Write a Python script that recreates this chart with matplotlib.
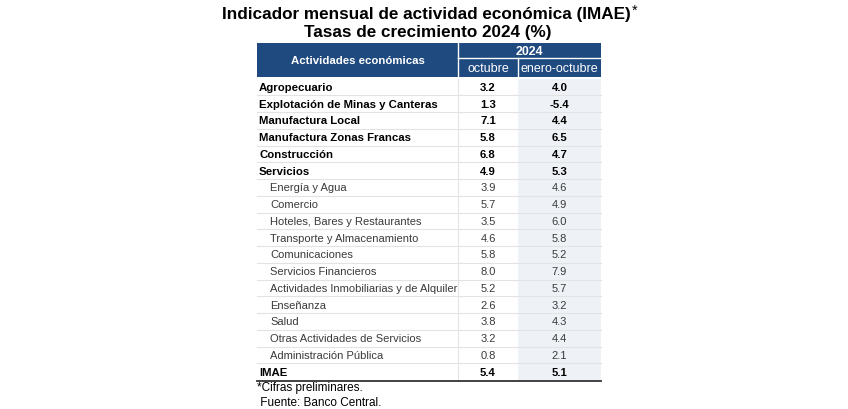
import matplotlib
matplotlib.use("Agg")
import matplotlib.pyplot as plt
from matplotlib.patches import Rectangle

plt.rcParams['font.family'] = ['Liberation Sans', 'DejaVu Sans']

title1 = "Indicador mensual de actividad económica (IMAE)"
title2 = "Tasas de crecimiento 2024 (%)"
header_main = "Actividades económicas"
header_year = "2024"
col_labels = ["octubre", "enero-octubre"]

activities = ["Agropecuario", "Explotación de Minas y Canteras", "Manufactura Local",
              "Manufactura Zonas Francas", "Construcción", "Servicios",
              "Energía y Agua", "Comercio", "Hoteles, Bares y Restaurantes",
              "Transporte y Almacenamiento", "Comunicaciones", "Servicios Financieros",
              "Actividades Inmobiliarias y de Alquiler", "Enseñanza", "Salud",
              "Otras Actividades de Servicios", "Administración Pública", "IMAE"]
is_sub = [False, False, False, False, False, False,
          True, True, True, True, True, True, True, True, True, True, True, False]
octubre = [3.2, 1.3, 7.1, 5.8, 6.8, 4.9, 3.9, 5.7, 3.5, 4.6, 5.8, 8.0, 5.2, 2.6, 3.8, 3.2, 0.8, 5.4]
ene_oct = [4.0, -5.4, 4.4, 6.5, 4.7, 5.3, 4.6, 4.9, 6.0, 5.8, 5.2, 7.9, 5.7, 3.2, 4.3, 4.4, 2.1, 5.1]
notes = ["*Cifras preliminares.", " Fuente: Banco Central."]

W, H = 848, 410
fig = plt.figure(figsize=(W / 100, H / 100), dpi=100)
ax = fig.add_axes([0, 0, 1, 1])
ax.set_xlim(0, W)
ax.set_ylim(H, 0)
ax.axis('off')

navy = '#1f4a7f'
x0, x1, x2, x3 = 257, 458, 518, 601
hy0, hy1, hy2 = 44, 59, 78
row_h = (381 - 79.5) / len(activities)
ry0 = 79.5

# Titles
t1 = ax.text(426, 15, title1, ha='center', va='center', fontsize=12.3, fontweight='bold')
fig.canvas.draw()
bb = t1.get_window_extent()
ax.text(bb.x1 + 1, 11, "*", ha='left', va='center', fontsize=10.5)
ax.text(428, 33, title2, ha='center', va='center', fontsize=12.3, fontweight='bold')

# Header
ax.add_patch(Rectangle((x0, hy0), x3 - x0, hy2 - hy0, facecolor=navy, edgecolor='none'))
ax.plot([x1, x1], [hy0, hy2], color='white', lw=1)
ax.plot([x1, x3], [hy1, hy1], color='white', lw=1)
ax.plot([x2, x2], [hy1, hy2], color='white', lw=1)
ax.text((x0 + x1) / 2, (hy0 + hy2) / 2, header_main, ha='center', va='center',
        color='white', fontsize=8.2, fontweight='bold')
ax.text((x1 + x3) / 2, (hy0 + hy1) / 2 + 0.5, header_year, ha='center', va='center',
        color='white', fontsize=8.9, fontweight='bold')
ax.text((x1 + x2) / 2, (hy1 + hy2) / 2 + 0.5, col_labels[0], ha='center', va='center',
        color='white', fontsize=9)
ax.text((x2 + x3) / 2, (hy1 + hy2) / 2 + 0.5, col_labels[1], ha='center', va='center',
        color='white', fontsize=9)

# Body
ax.add_patch(Rectangle((x2, ry0), x3 - x2, row_h * len(activities), facecolor='#eef1f6',
                       edgecolor='none'))
for i, (name, sub, a, b) in enumerate(zip(activities, is_sub, octubre, ene_oct)):
    yc = ry0 + (i + 0.5) * row_h
    if i < len(activities) - 1:
        ax.plot([x0, x3], [ry0 + (i + 1) * row_h] * 2, color='#e3e3e3', lw=0.8)
    wt = 'normal' if sub else 'bold'
    col = '#3a3a3a' if sub else 'black'
    fs = 8.0 if sub else 8.2
    ax.text(x0 + (13 if sub else 2), yc, name, ha='left', va='center', fontsize=fs,
            fontweight=wt, color=col)
    ax.text((x1 + x2) / 2, yc, f"{a:.1f}", ha='center', va='center', fontsize=fs,
            fontweight=wt, color=col)
    ax.text((x2 + x3) / 2, yc, f"{b:.1f}", ha='center', va='center', fontsize=fs,
            fontweight=wt, color=col)
ax.plot([x1, x1], [ry0, ry0 + row_h * len(activities)], color='#e3e3e3', lw=0.8)
ax.plot([x0, x3], [381.5, 381.5], color='#333333', lw=1.3)

ax.text(x0, 388, notes[0], ha='left', va='center', fontsize=8.5)
ax.text(x0, 403, notes[1], ha='left', va='center', fontsize=8.5)

fig.savefig("out.png", dpi=100)
